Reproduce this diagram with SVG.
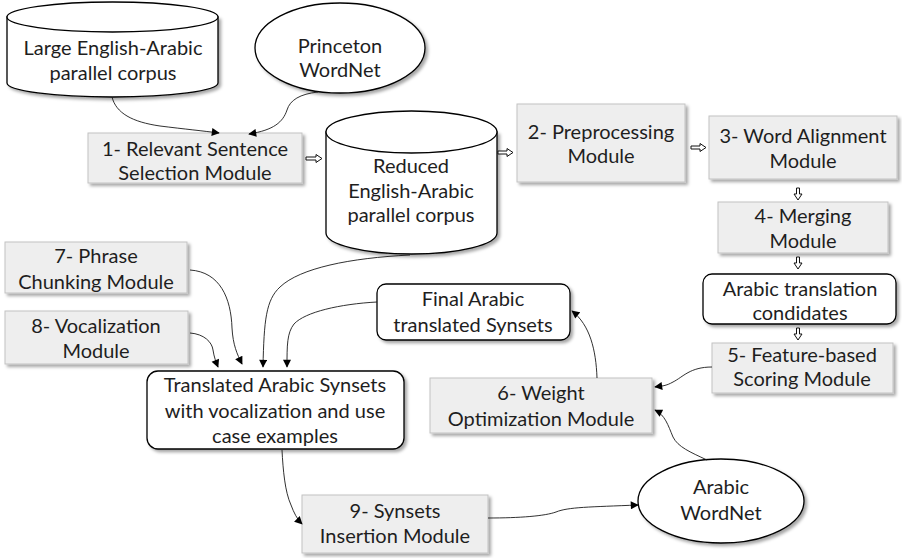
<svg xmlns="http://www.w3.org/2000/svg" width="902" height="558" viewBox="0 0 902 558">
  <style>
    text { font-family: Lato, "Liberation Sans", sans-serif; font-size: 20px; fill: #1e1e1e; text-anchor: middle; }
    .module { fill: #eeeeee; stroke: #c2c2c2; stroke-width: 1; filter: url(#shadow); }
    .store { fill: #ffffff; stroke: #000000; stroke-width: 1.3; }
    .data { fill: #ffffff; stroke: #000000; stroke-width: 1.3; filter: url(#shadow); }
    .link { fill: none; stroke: #1a1a1a; stroke-width: 0.9; marker-end: url(#tip); }
    .flow { fill: #ffffff; stroke: #111111; stroke-width: 1; }
  </style>
  <defs>
    <filter id="shadow" x="-10%" y="-10%" width="130%" height="140%">
      <feDropShadow dx="2.5" dy="2.5" stdDeviation="1.6" flood-color="#000000" flood-opacity="0.35"/>
    </filter>
    <marker id="tip" viewBox="0 0 10 10" refX="9" refY="5" markerWidth="9" markerHeight="8" markerUnits="userSpaceOnUse" orient="auto">
      <path d="M0,0 L10,5 L0,10 Z" fill="#000000"/>
    </marker>
  </defs>

  <!-- data stores and resources -->
  <g id="large-corpus">
    <path class="data" d="M7,17 V83 A105.5,14 0 0 0 218,83 V17 Z"/>
    <ellipse class="store" cx="112.5" cy="17" rx="105.5" ry="15"/>
    <text x="113" y="55">Large English-Arabic</text>
    <text x="113" y="80">parallel corpus</text>
  </g>

  <g id="princeton-wordnet">
    <ellipse class="data" cx="340" cy="48" rx="85" ry="45"/>
    <text x="340" y="53">Princeton</text>
    <text x="340" y="77">WordNet</text>
  </g>

  <g id="module-1">
    <rect class="module" x="88" y="133" width="214" height="50"/>
    <text x="195" y="156">1- Relevant Sentence</text>
    <text x="195" y="180">Selection Module</text>
  </g>

  <g id="reduced-corpus">
    <path class="data" d="M326,132 V233 A85.5,21 0 0 0 497,233 V132 Z"/>
    <ellipse class="store" cx="411.5" cy="132" rx="85.5" ry="21"/>
    <text x="411" y="173">Reduced</text>
    <text x="411" y="198">English-Arabic</text>
    <text x="411" y="222">parallel corpus</text>
  </g>

  <g id="module-2">
    <rect class="module" x="517" y="104" width="168" height="78"/>
    <text x="601" y="139">2- Preprocessing</text>
    <text x="601" y="163">Module</text>
  </g>

  <g id="module-3">
    <rect class="module" x="709" y="116" width="188" height="63"/>
    <text x="803" y="143">3- Word Alignment</text>
    <text x="803" y="168">Module</text>
  </g>

  <g id="module-4">
    <rect class="module" x="718" y="202" width="170" height="51"/>
    <text x="803" y="223">4- Merging</text>
    <text x="803" y="248">Module</text>
  </g>

  <g id="candidates">
    <rect class="data" x="703" y="274" width="193" height="50" rx="9"/>
    <text x="800" y="296">Arabic translation</text>
    <text x="800" y="320">condidates</text>
  </g>

  <g id="module-5">
    <rect class="module" x="712" y="343" width="181" height="50"/>
    <text x="802" y="362">5- Feature-based</text>
    <text x="802" y="386">Scoring Module</text>
  </g>

  <g id="module-6">
    <rect class="module" x="430" y="378" width="222" height="55"/>
    <text x="541" y="400">6- Weight</text>
    <text x="541" y="426">Optimization Module</text>
  </g>

  <g id="final-synsets">
    <rect class="data" x="377" y="284" width="193" height="56" rx="9"/>
    <text x="473" y="306">Final Arabic</text>
    <text x="473" y="332">translated Synsets</text>
  </g>

  <g id="module-7">
    <rect class="module" x="5" y="242" width="182" height="51"/>
    <text x="96" y="263">7- Phrase</text>
    <text x="96" y="289">Chunking Module</text>
  </g>

  <g id="module-8">
    <rect class="module" x="5" y="311" width="183" height="53"/>
    <text x="96" y="333">8- Vocalization</text>
    <text x="96" y="358">Module</text>
  </g>

  <g id="translated-synsets">
    <rect class="data" x="147" y="371" width="257" height="78" rx="11"/>
    <text x="275" y="392">Translated Arabic Synsets</text>
    <text x="275" y="418">with vocalization and use</text>
    <text x="275" y="443">case examples</text>
  </g>

  <g id="module-9">
    <rect class="module" x="302" y="495" width="186" height="58"/>
    <text x="395" y="518">9- Synsets</text>
    <text x="395" y="543">Insertion Module</text>
  </g>

  <g id="arabic-wordnet">
    <ellipse class="data" cx="721" cy="501" rx="83" ry="42"/>
    <text x="721" y="494">Arabic</text>
    <text x="721" y="520">WordNet</text>
  </g>

  <!-- connectors -->
  <g id="connectors">
    <!-- pipeline block arrows -->
    <polygon class="flow" points="306,157 316,157 316,154.5 322,158.5 316,162.5 316,160 306,160"/>
    <polygon class="flow" points="498,151 507,151 507,148.5 513,152.5 507,156.5 507,154 498,154"/>
    <polygon class="flow" points="691,146 700,146 700,143.5 706,147.5 700,151.5 700,149 691,149"/>
    <polygon class="flow" points="796.5,188 799.5,188 799.5,194 802,194 798,200 794,194 796.5,194"/>
    <polygon class="flow" points="796.5,257 799.5,257 799.5,263 802,263 798,269 794,263 796.5,263"/>
    <polygon class="flow" points="796.5,328 799.5,328 799.5,334 802,334 798,340 794,334 796.5,334"/>

    <!-- curved links -->
    <path class="link" d="M112,97 C116,113 132,122 160,126 C184,129 204,131 219,133"/>
    <path class="link" d="M318,92 C300,94 290,100 287,110 C283,122 274,130 249,134"/>
    <path class="link" d="M190,270 C220,272 231,298 232,328 C233,345 237,354 242,364"/>
    <path class="link" d="M190,333 C204,334 212,342 213,350 C214,357 216,362 218,367"/>
    <path class="link" d="M410,255 C350,258 300,268 280,287 C266,300 264,320 263,367"/>
    <path class="link" d="M377,302 C340,304 305,312 294,324 C287,333 287,345 287,367"/>
    <path class="link" d="M282,450 C283,470 285,492 291,505 C294,513 297,519 302,524"/>
    <path class="link" d="M488,518 C520,518 545,516 556,512 C568,507 590,507 638,505"/>
    <path class="link" d="M707,460 C690,452 678,447 673,437 C668,425 665,415 655,410"/>
    <path class="link" d="M712,367 C690,367 683,377 673,382 C666,386 662,386 655,387"/>
    <path class="link" d="M597,378 C596,350 590,325 572,311"/>
  </g>
</svg>
